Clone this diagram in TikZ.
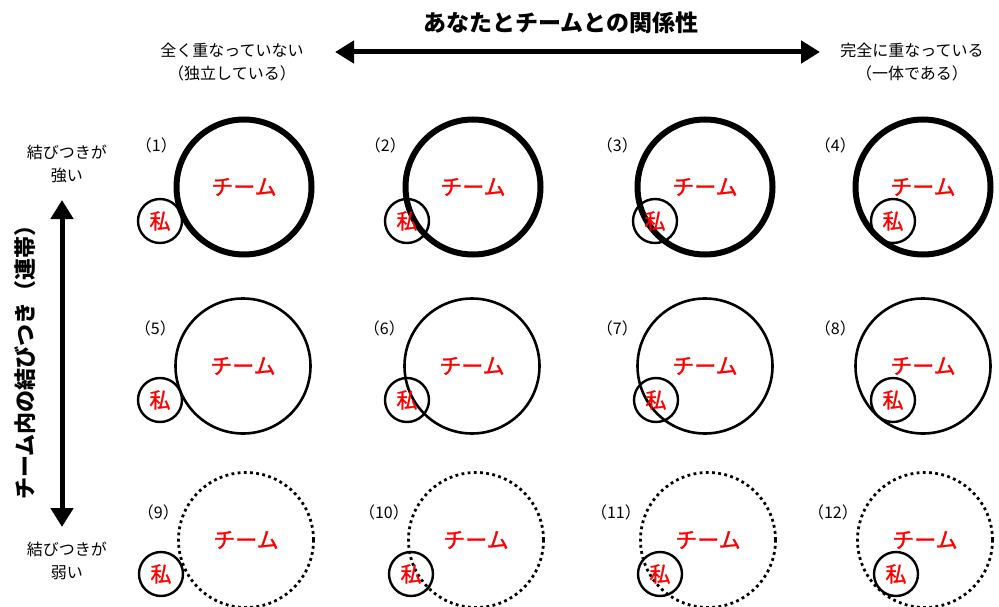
\documentclass[tikz,border=0pt]{standalone}
\usepackage{fontspec}
\setmainfont{Noto Sans CJK JP}
\newfontfamily\jpheavy[FakeBold=1.2]{Noto Sans CJK JP}
\usetikzlibrary{arrows.meta}
\usetikzlibrary{positioning}
\tikzset{bigarrow/.style = {line width=5pt, {Triangle[length=19pt, width=22pt]}-{Triangle[length=19pt, width=22pt]}}}
\tikzset{teambase/.style = {circle, minimum size=135pt, inner sep=0pt, text=red,
                            font=\jpheavy\fontsize{22}{26}\selectfont}}
\tikzset{strongteam/.style = {teambase, draw, line width=6pt}}
\tikzset{normalteam/.style = {teambase, draw, line width=2.6pt}}
\tikzset{weakteam/.style = {teambase, draw, line width=2.8pt, dash pattern=on 2.8pt off 3.4pt}}
\tikzset{me/.style = {circle, draw, line width=2.4pt, minimum size=44pt, inner sep=0pt, text=red,
                      font=\jpheavy\fontsize{21}{25}\selectfont}}
\tikzset{num/.style = {anchor=east, inner sep=0pt, font=\fontsize{16}{20}\selectfont}}
\tikzset{side/.style = {align=center, inner sep=0pt, font=\fontsize{16}{23}\selectfont}}

\begin{document}
\begin{tikzpicture}[x=1pt, y=-1pt]
      \useasboundingbox (0, 0) rectangle (999, 607);

      % header
      \node [font=\fontsize{23}{28}\selectfont\bfseries] (title) at (561, 23) {あなたとチームとの関係性};
      \node [side] (apart) at (232, 62) {全く重なっていない\\（独立している）};
      \node [side] (unity) at (912, 62) {完全に重なっている\\（一体である）};
      \coordinate (hleft) at (335, 52);
      \coordinate (hright) at (820, 52);
      \draw [bigarrow] (hleft) -- (hright);

      % left axis
      \node [side] (strong) at (67, 164) {結びつきが\\強い};
      \node [side] (weak) at (67, 561) {結びつきが\\弱い};
      \coordinate (vtop) at (62, 200);
      \coordinate (vbottom) at (62, 527);
      \draw [bigarrow] (vtop) -- (vbottom);
      \node [rotate=90, font=\fontsize{22}{26}\selectfont\bfseries] (bond) at (25, 357) {チーム内の結びつき（連帯）};

      % panels
      \foreach \n/\x/\y/\dx/\ly/\st in {1/244/187/-84/145/strongteam, 2/473/187/-66/145/strongteam,
                                        3/705/187/-50/145/strongteam, 4/923/187/-30/145/strongteam,
                                        5/243/366/-83/328/normalteam, 6/472/366/-65/328/normalteam,
                                        7/705/366/-49/328/normalteam, 8/923/366/-30/328/normalteam,
                                        9/246/540/-85/512/weakteam, 10/476/540/-65/512/weakteam,
                                        11/708/540/-48/512/weakteam, 12/925/540/-29/512/weakteam}
      {
        \node [\st] (team\n) at (\x, \y) {チーム};
        \node [me] (me\n) at (\x+\dx, \y+34) {私};
        \node [num] (num\n) at (\x-67, \ly) {（\n）};
      }
    \end{tikzpicture}
\end{document}
